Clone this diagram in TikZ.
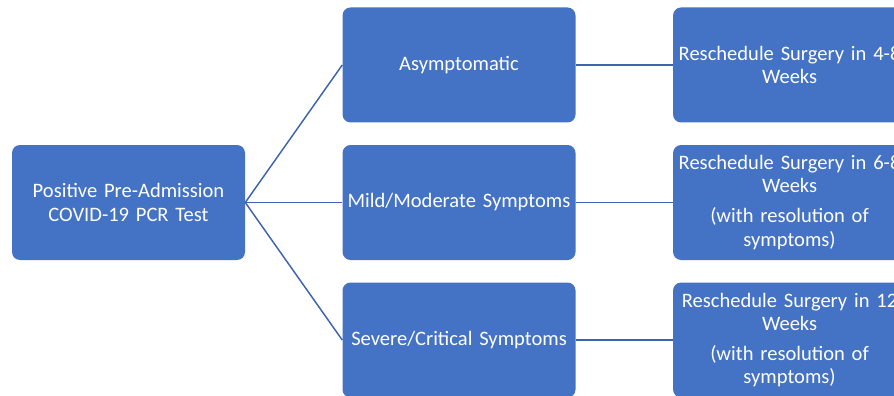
\documentclass[tikz,border=0pt]{standalone}
\usepackage{fontspec}
\setmainfont{Carlito}
\usetikzlibrary{positioning}
\definecolor{officeblue}{HTML}{4472C4}
\definecolor{linkblue}{HTML}{3D64AE}
\tikzstyle{block} = [rectangle, fill=officeblue, text=white, font=\fontsize{15.4}{17.5}\selectfont,
    text width=172pt, align=center, rounded corners=6pt, minimum width=174.75pt, minimum height=86.25pt,
    inner sep=0pt]
\tikzstyle{line} = [draw=linkblue, line width=1.1pt]

\begin{document}
\begin{tikzpicture}[x=0.75pt, y=-0.75pt, node distance = 16.5pt and 72.75pt]
        \useasboundingbox (0,0) rectangle (894,396);
        \clip (0,0) rectangle (894,396);
        % Place nodes

        % test result
        \node [block] (test) at (128.5,202.5) {Positive Pre-Admission\\COVID-19 PCR Test};

        % symptom classes
        \node [block, right=of test] (mild) {Mild/Moderate Symptoms};
        \node [block, above=of mild] (asym) {Asymptomatic};
        \node [block, below=of mild] (seve) {Severe/Critical Symptoms};

        % reschedule advice
        \node [block, right=of asym] (resa) {Reschedule Surgery in 4-8\\Weeks};
        \node [block, right=of mild] (resm) {Reschedule Surgery in 6-8\\Weeks\\[5pt](with resolution of\\symptoms)};
        \node [block, right=of seve] (ress) {Reschedule Surgery in 12\\Weeks\\[5pt](with resolution of\\symptoms)};

        % Draw edges
        \path [line] (test.east) -- (asym.west);
        \path [line] (test.east) -- (mild.west);
        \path [line] (test.east) -- (seve.west);
        \path [line] (asym) -- (resa);
        \path [line] (mild) -- (resm);
        \path [line] (seve) -- (ress);
\end{tikzpicture}
\end{document}
